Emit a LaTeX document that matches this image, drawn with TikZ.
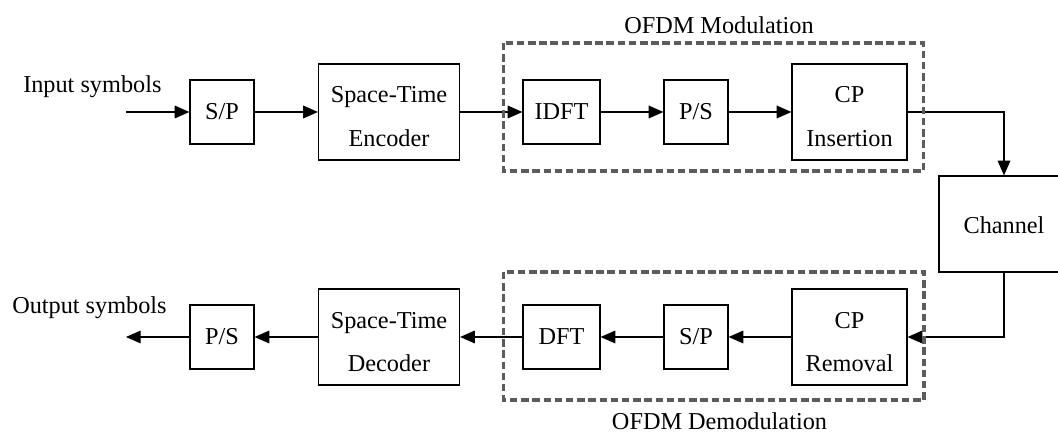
\documentclass[tikz,border=0pt]{standalone}
\usepackage{fontspec}
\setmainfont{Liberation Serif}
\usetikzlibrary{arrows.meta,calc}
\begin{document}
\begin{tikzpicture}[x=0.75pt,y=-0.75pt,
  box/.style={draw=black, line width=0.9pt, fill=white, inner sep=0pt,
    font=\fontsize{18.2}{22}\selectfont},
  sq/.style={box, minimum width=48pt, minimum height=48pt},
  txt/.style={inner sep=0pt, font=\fontsize{18.2}{22}\selectfont},
  conn/.style={line width=0.8pt, -{Triangle[length=11pt,width=9.5pt]}},
  grp/.style={draw=black!64, line width=2.5pt, dash pattern=on 5.6pt off 2.8pt}]
\useasboundingbox (0,0) rectangle (1058,434);
% top row
\coordinate (in) at (126,112);
\node[sq] (sp1) at (222,112) {S/P};
\node[box, minimum width=105.75pt, minimum height=72pt] (enc) at (389,112) {};
\node[sq, minimum width=57.75pt] (idft) at (561.5,112) {IDFT};
\node[sq] (ps1) at (696,112) {P/S};
\node[box, minimum width=86.25pt, minimum height=72pt] (cpi) at (849.5,112) {};
\node[box, minimum width=97.5pt, minimum height=72pt] (ch) at (1004,224) {};
% bottom row
\coordinate (out) at (126,337);
\node[sq] (ps2) at (222,337) {P/S};
\node[box, minimum width=105.75pt, minimum height=72pt] (dec) at (389,337) {};
\node[sq, minimum width=57.75pt] (dft) at (561.5,337) {DFT};
\node[sq] (sp2) at (696,337) {S/P};
\node[box, minimum width=86.25pt, minimum height=72pt] (cpr) at (849.5,337) {};
% two-line texts
\node[txt, anchor=base] (encA) at (389,103) {Space-Time};
\node[txt, anchor=base] (encB) at (389,146.5) {Encoder};
\node[txt, anchor=base] (cpiA) at (849.5,103) {CP};
\node[txt, anchor=base] (cpiB) at (849.5,146.5) {Insertion};
\node[txt, anchor=base] (decA) at (389,329) {Space-Time};
\node[txt, anchor=base] (decB) at (389,372) {Decoder};
\node[txt, anchor=base] (cprA) at (849.5,329) {CP};
\node[txt, anchor=base] (cprB) at (849.5,372) {Removal};
\node[txt, anchor=base] (chA) at (1004,234) {Channel};
% labels
\node[txt, anchor=base west] (inl) at (23,93) {Input symbols};
\node[txt, anchor=base west] (outl) at (12,313.5) {Output symbols};
\node[txt, anchor=base] (modl) at (719,33.3) {OFDM Modulation};
\node[txt, anchor=base] (deml) at (719.5,430) {OFDM Demodulation};
% connectors
\draw[conn] (in) -- (sp1);
\draw[conn] (sp1) -- (enc);
\draw[conn] (enc) -- (idft);
\draw[conn] (idft) -- (ps1);
\draw[conn] (ps1) -- (cpi);
\draw[conn] (cpi.east) -| (ch.north);
\draw[conn] (ch.south) |- (cpr.east);
\draw[conn] (cpr) -- (sp2);
\draw[conn] (sp2) -- (dft);
\draw[conn] (dec) -- (ps2);
\draw[conn] (dft) -- (dec);
\draw[conn] (ps2) -- (out);
% groups
\draw[grp] (503.5,43) rectangle (923.5,171);
\draw[grp] (503.5,272) rectangle (924,400);
\end{tikzpicture}
\end{document}
